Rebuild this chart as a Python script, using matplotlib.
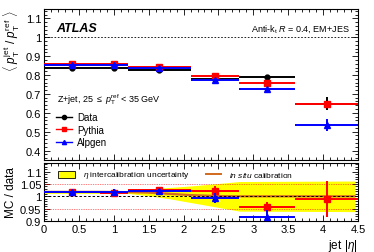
import numpy as np
import matplotlib
matplotlib.use("Agg")
import matplotlib.pyplot as plt
from matplotlib.ticker import MultipleLocator, FuncFormatter
from matplotlib.patches import Rectangle
from matplotlib.lines import Line2D

plt.rcParams["font.family"] = ["Liberation Sans", "DejaVu Sans"]
plt.rcParams["mathtext.fontset"] = "custom"
plt.rcParams["mathtext.rm"] = "Liberation Sans"
plt.rcParams["mathtext.it"] = "Liberation Sans:italic"

# |eta| bins
bin_lo = [0.0, 0.8, 1.2, 2.1, 2.8, 3.6]
bin_hi = [0.8, 1.2, 2.1, 2.8, 3.6, 4.5]
bin_x = [0.4, 1.0, 1.65, 2.45, 3.2, 4.05]

# <pT jet / pT ref>
data_resp = [0.838, 0.838, 0.825, 0.780, 0.789, 0.648]
data_err = [0.004, 0.004, 0.004, 0.005, 0.008, 0.035]
pythia_resp = [0.857, 0.857, 0.845, 0.795, 0.757, 0.648]
pythia_err = [0.003, 0.003, 0.003, 0.004, 0.006, 0.012]
alpgen_resp = [0.855, 0.855, 0.840, 0.775, 0.726, 0.535]
alpgen_err = [0.004, 0.004, 0.004, 0.006, 0.008, 0.03]

# MC / data
pythia_ratio = [1.017, 1.015, 1.027, 1.022, 0.957, 0.990]
pythia_ratio_err = [0.008, 0.008, 0.008, 0.018, 0.02, 0.074]
alpgen_ratio = [1.016, 1.016, 1.022, 0.993, 0.918, 0.83]
alpgen_ratio_err = [0.008, 0.012, 0.008, 0.02, 0.025, 0.06]

# eta intercalibration band and in situ calibration curve
band_eta = [0.0, 0.8, 1.2, 1.5, 1.8, 2.1, 2.5, 2.8, 4.45]
band_up = [1.021, 1.021, 1.023, 1.03, 1.036, 1.042, 1.052, 1.06, 1.062]
band_dn = [1.012, 1.012, 1.012, 1.002, 0.99, 0.975, 0.955, 0.94, 0.938]
insitu_eta = [0.0, 0.8, 1.2, 1.5, 1.8, 2.1, 2.5, 2.8, 4.45]
insitu_val = [1.018, 1.018, 1.017, 1.015, 1.01, 1.005, 1.001, 1.0, 1.0]

W, H = 374, 253
fig = plt.figure(figsize=(W / 100, H / 100), dpi=100)
ax1 = fig.add_axes([44 / W, 1 - 161 / H, 314 / W, 151 / H])
ax2 = fig.add_axes([44 / W, 1 - 222 / H, 314 / W, 58 / H])

fs = 8


def style(ax):
    ax.tick_params(which="both", direction="in", top=True, right=True, labelsize=fs, pad=2)
    ax.tick_params(which="major", length=4, width=0.6)
    ax.tick_params(which="minor", length=2, width=0.6)
    for s in ax.spines.values():
        s.set_linewidth(0.8)
    ax.xaxis.set_major_locator(MultipleLocator(0.5))
    ax.xaxis.set_minor_locator(MultipleLocator(0.1))
    ax.xaxis.set_major_formatter(FuncFormatter(lambda v, p: f"{v:g}"))
    ax.set_xlim(0, 4.5)


def draw(ax, y, yerr, color, marker, ms, z):
    xerr = [np.array(bin_x) - np.array(bin_lo), np.array(bin_hi) - np.array(bin_x)]
    ax.errorbar(bin_x, y, xerr=xerr, yerr=yerr, fmt=marker, color=color, ms=ms,
                elinewidth=1.4, capsize=0, zorder=z)


# ---- top panel ----
style(ax1)
ax1.set_ylim(0.35, 1.15)
ax1.yaxis.set_minor_locator(MultipleLocator(0.02))
ax1.set_yticks([0.4, 0.5, 0.6, 0.7, 0.8, 0.9, 1.0, 1.1])
ax1.set_yticklabels(["0.4", "0.5", "0.6", "0.7", "0.8", "0.9", "1", "1.1"])
ax1.tick_params(labelbottom=False)
ax1.axhline(1.0, color="black", ls=(0, (2, 2)), lw=0.6)

draw(ax1, data_resp, data_err, "black", "o", 3.5, 3)
draw(ax1, pythia_resp, pythia_err, "red", "s", 3.8, 4)
draw(ax1, alpgen_resp, alpgen_err, "blue", "^", 3.8, 5)

ax1.text(0.04, 0.855, "ATLAS", transform=ax1.transAxes, fontsize=9,
         fontweight="bold", fontstyle="italic")
ax1.text(0.975, 0.86, r"Anti-k$_{\rm t}$ $R$ = 0.4, EM+JES", transform=ax1.transAxes,
         fontsize=6.5, ha="right")
ax1.text(0.04, 0.385, r"Z+jet, 25 $\leq$ $p_{\rm T}^{\rm ref}$ < 35 GeV",
         transform=ax1.transAxes, fontsize=6.5)
ax1.legend(
    handles=[
        Line2D([], [], color="black", marker="o", ms=3, lw=1),
        Line2D([], [], color="red", marker="s", ms=3, lw=1),
        Line2D([], [], color="blue", marker="^", ms=3, lw=1),
    ],
    labels=["Data", "Pythia", "Alpgen"],
    loc="upper left", bbox_to_anchor=(0.015, 0.36), frameon=False,
    fontsize=7, handlelength=1.7, handletextpad=0.5, labelspacing=0.25,
    borderpad=0.2,
)
ax1.set_ylabel(r"$\langle$ $p_{\rm T}^{\rm jet}$ / $p_{\rm T}^{\rm ref}$ $\rangle$",
               fontsize=8.5, loc="top", labelpad=3)

# ---- ratio panel ----
style(ax2)
ax2.set_ylim(0.9, 1.135)
ax2.set_yticks([0.9, 0.95, 1.0, 1.05, 1.1])
ax2.set_yticklabels(["0.9", "0.95", "1", "1.05", "1.1"])
ax2.yaxis.set_minor_locator(MultipleLocator(0.01))
ax2.fill_between(band_eta, band_dn, band_up, color="#ffff00", lw=0, zorder=1)
ax2.plot(insitu_eta, insitu_val, color="#d2691e", lw=1.6, zorder=2)
ax2.hlines([0.95, 1.05], 0, 4.45, colors="red", linestyles=(0, (1, 1.5)), lw=0.5, zorder=2)
ax2.axhline(1.0, color="black", ls=(0, (2.5, 2)), lw=0.7, zorder=2)
draw(ax2, pythia_ratio, pythia_ratio_err, "red", "s", 4.2, 4)
draw(ax2, alpgen_ratio, alpgen_ratio_err, "blue", "^", 4.2, 5)
ax2.set_ylabel("MC / data", fontsize=8.5, labelpad=2)
ax2.set_xlabel(r"jet |$\eta$|", fontsize=8.5, loc="right", labelpad=2)

ax2.add_patch(Rectangle((0.045, 0.74), 0.055, 0.13, transform=ax2.transAxes,
                        facecolor="#ffff00", edgecolor="black", lw=0.6, zorder=6))
ax2.text(0.125, 0.805, r"$\eta$ intercalibration uncertainty", transform=ax2.transAxes,
         fontsize=6, va="center", zorder=6)
ax2.plot([0.515, 0.565], [0.805, 0.805], transform=ax2.transAxes, color="#d2691e",
         lw=1.4, zorder=6)
ax2.text(0.59, 0.805, r"$\it{in\ situ}$ calibration", transform=ax2.transAxes,
         fontsize=6, va="center", zorder=6)

fig.savefig("out.png", dpi=100)
